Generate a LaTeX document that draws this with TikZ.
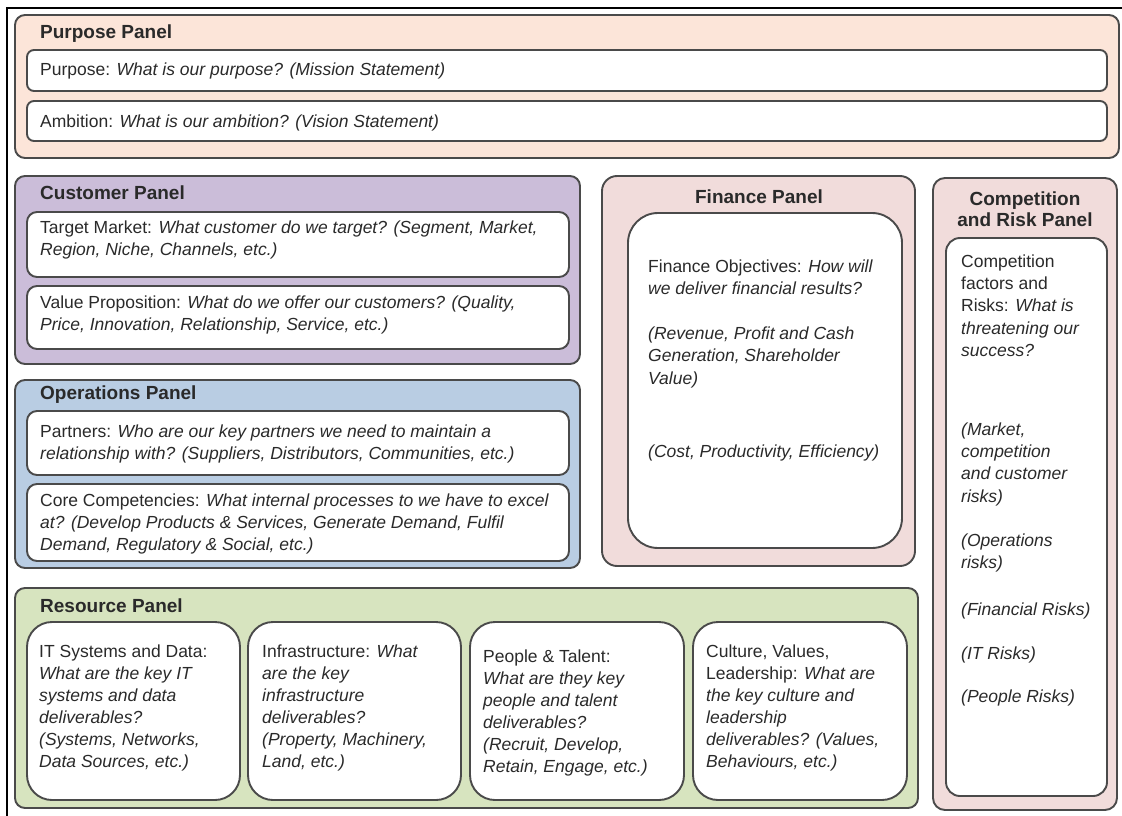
\documentclass[tikz,border=0pt]{standalone}
\usepackage{fontspec}
\setmainfont{Liberation Sans}
\definecolor{purposefill}{HTML}{FCE5D9}
\definecolor{customerfill}{HTML}{CBBDD9}
\definecolor{opsfill}{HTML}{B9CDE3}
\definecolor{finfill}{HTML}{F1DCDB}
\definecolor{resfill}{HTML}{D7E4BF}
\definecolor{bordergray}{HTML}{4A4A4A}
\definecolor{txtcol}{HTML}{2A2A2A}
\tikzset{
  panel/.style={draw=bordergray, line width=1.9pt, rounded corners=10pt, inner sep=0pt},
  wbox/.style={draw=bordergray, line width=1.9pt, fill=white, inner sep=0pt},
  ttl/.style={font=\bfseries\fontsize{19}{21}\selectfont, text=txtcol, inner sep=0pt},
  txt/.style={font=\fontsize{17.5}{22.4}\selectfont, text=txtcol, inner sep=0pt, align=left},
  rtxt/.style={font=\fontsize{17.5}{22}\selectfont, text=txtcol, inner sep=0pt, align=left},
}
\newcommand\rbox[6]{\node[#6, minimum width={(#4-#2)*1pt}, minimum height={(#5-#3)*1pt}] (#1) at ({(#2+#4)/2},{(#3+#5)/2}) {};}
\begin{document}
\begin{tikzpicture}[x=1pt,y=-1pt]
\useasboundingbox (0,0) rectangle (1122,816);
% outer frame lines
\coordinate (fbl) at (7,816);
\coordinate (ftl) at (7,8);
\coordinate (ftr) at (1122,8);
\draw[line width=2.5pt] (fbl) -- (ftl) -- (ftr);

% Purpose panel (base anchors of multi-line texts sit on their last line)
\rbox{purpose}{15}{15}{1119}{158}{panel, fill=purposefill}
\rbox{purposeBox}{27}{50}{1107}{91}{wbox, rounded corners=7pt}
\rbox{ambitionBox}{27}{101}{1107}{141}{wbox, rounded corners=7pt}
\node[ttl, anchor=base west] (hPurpose) at (40,39) {Purpose Panel};
\node[txt, anchor=base west] (tPurpose) at (40,76) {Purpose: \textit{What is our purpose? (Mission Statement)}};
\node[txt, anchor=base west] (tAmbition) at (40,127) {Ambition: \textit{What is our ambition? (Vision Statement)}};

% Customer panel
\rbox{customer}{15}{176}{580}{364}{panel, fill=customerfill}
\rbox{targetBox}{27}{212}{569}{277}{wbox, rounded corners=10pt}
\rbox{valueBox}{27}{286}{569}{349}{wbox, rounded corners=10pt}
\node[ttl, anchor=base west] (hCustomer) at (40,199) {Customer Panel};
\node[txt, anchor=base west] (tTarget) at (40,255.4) {Target Market: \textit{What customer do we target? (Segment, Market,}\\\textit{Region, Niche, Channels, etc.)}};
\node[txt, anchor=base west] (tValue) at (40,330.4) {Value Proposition: \textit{What do we offer our customers? (Quality,}\\\textit{Price, Innovation, Relationship, Service, etc.)}};

% Operations panel
\rbox{operations}{15}{380}{580}{568}{panel, fill=opsfill}
\rbox{partnersBox}{27}{411}{569}{475}{wbox, rounded corners=10pt}
\rbox{coreBox}{27}{484}{569}{561}{wbox, rounded corners=10pt}
\node[ttl, anchor=base west] (hOps) at (40,399) {Operations Panel};
\node[txt, anchor=base west] (tPartners) at (40,459.4) {Partners: \textit{Who are our key partners we need to maintain a}\\\textit{relationship with? (Suppliers, Distributors, Communities, etc.)}};
\node[txt, anchor=base west] (tCore) at (40,550.8) {Core Competencies: \textit{What internal processes to we have to excel}\\\textit{at? (Develop Products \& Services, Generate Demand, Fulfil}\\\textit{Demand, Regulatory \& Social, etc.)}};

% Resource panel
\rbox{resource}{15}{588}{918}{808}{panel, fill=resfill}
\rbox{itBox}{27}{622}{240}{800}{wbox, rounded corners=25pt}
\rbox{infraBox}{248}{622}{461}{800}{wbox, rounded corners=25pt}
\rbox{peopleBox}{470}{622}{684}{800}{wbox, rounded corners=25pt}
\rbox{cultureBox}{693}{622}{907}{800}{wbox, rounded corners=25pt}
\node[ttl, anchor=base west] (hRes) at (40,612) {Resource Panel};
\node[rtxt, anchor=base west] (tIT) at (39,767) {IT Systems and Data:\\\textit{What are the key IT}\\\textit{systems and data}\\\textit{deliverables?}\\\textit{(Systems, Networks,}\\\textit{Data Sources, etc.)}};
\node[rtxt, anchor=base west] (tInfra) at (262,767) {Infrastructure: \textit{What}\\\textit{are the key}\\\textit{infrastructure}\\\textit{deliverables?}\\\textit{(Property, Machinery,}\\\textit{Land, etc.)}};
\node[rtxt, anchor=base west] (tPeople) at (483,772) {People \& Talent:\\\textit{What are they key}\\\textit{people and talent}\\\textit{deliverables?}\\\textit{(Recruit, Develop,}\\\textit{Retain, Engage, etc.)}};
\node[rtxt, anchor=base west] (tCulture) at (706,767) {Culture, Values,\\Leadership: \textit{What are}\\\textit{the key culture and}\\\textit{leadership}\\\textit{deliverables? (Values,}\\\textit{Behaviours, etc.)}};

% Finance panel
\rbox{finance}{602}{176}{915}{566}{panel, rounded corners=15pt, fill=finfill}
\rbox{finBox}{628}{213}{902}{548}{wbox, rounded corners=30pt}
\node[ttl, anchor=base] (hFin) at (759,203) {Finance Panel};
\node[txt, anchor=base west] (tFin) at (648,384) {Finance Objectives: \textit{How will}\\\textit{we deliver financial results?}\\[22.4pt]\textit{(Revenue, Profit and Cash}\\\textit{Generation, Shareholder}\\\textit{Value)}};
\node[txt, anchor=base west] (tFin2) at (648,457) {\textit{(Cost, Productivity, Efficiency)}};

% Competition and Risk panel
\rbox{comp}{933}{178}{1117}{810}{panel, rounded corners=12pt, fill=finfill}
\rbox{compBox}{946}{238}{1107}{796}{wbox, rounded corners=14pt}
\node[ttl, anchor=base, align=center] (hComp) at (1025,226) {Competition\\and Risk Panel};
\node[txt, anchor=base west] (tComp1) at (961,356.6) {Competition\\factors and\\Risks: \textit{What is}\\\textit{threatening our}\\\textit{success?}};
\node[txt, anchor=base west] (tComp2) at (961,502.2) {\textit{(Market,}\\\textit{competition}\\\textit{and customer}\\\textit{risks)}};
\node[txt, anchor=base west] (tComp3) at (961,568.4) {\textit{(Operations}\\\textit{risks)}};
\node[txt, anchor=base west] (tComp4) at (961,615) {\textit{(Financial Risks)}};
\node[txt, anchor=base west] (tComp5) at (961,659) {\textit{(IT Risks)}};
\node[txt, anchor=base west] (tComp6) at (961,702) {\textit{(People Risks)}};
\end{tikzpicture}
\end{document}
